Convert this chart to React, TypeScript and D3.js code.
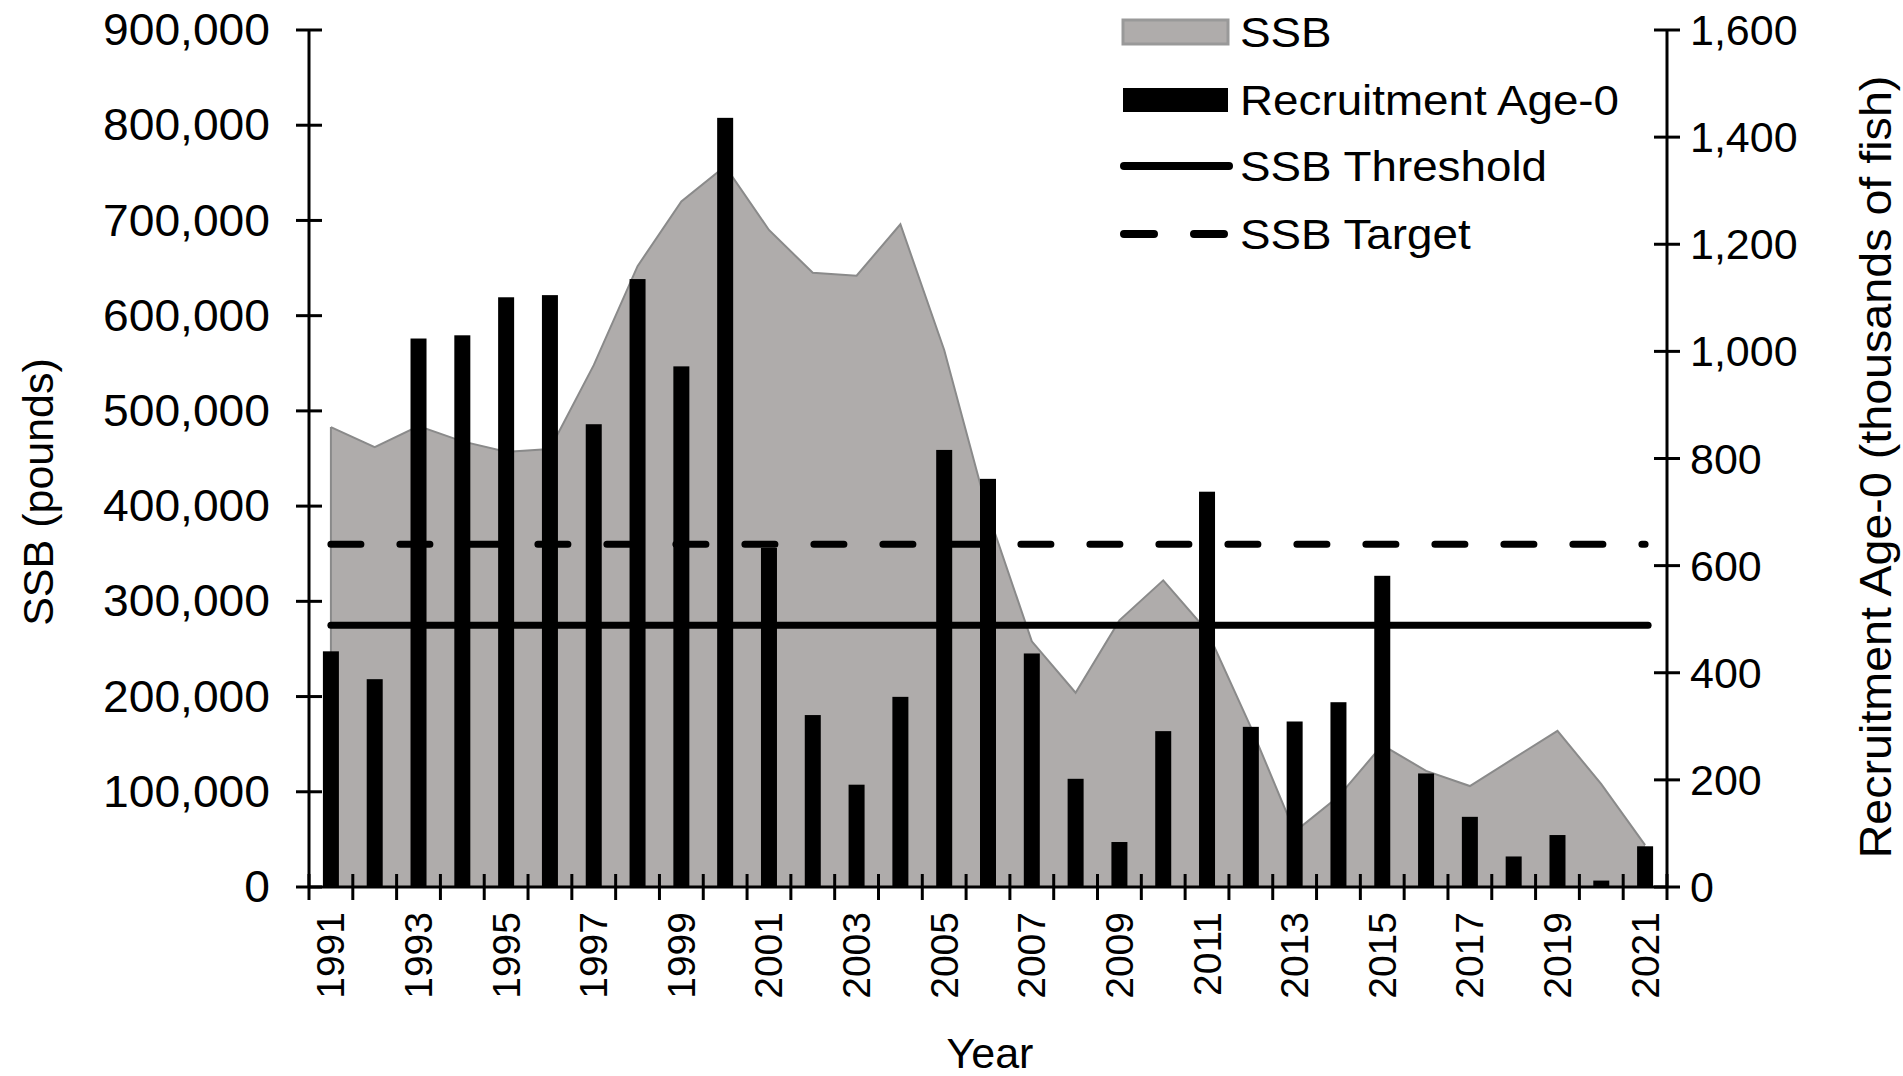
import React from "react";
import * as d3 from "d3";

const years = [1991,1992,1993,1994,1995,1996,1997,1998,1999,2000,2001,2002,2003,2004,2005,2006,2007,2008,2009,2010,2011,2012,2013,2014,2015,2016,2017,2018,2019,2020,2021];
const ssb = [483000,462000,484000,468000,457000,460000,548000,652000,720000,757000,690000,645000,642000,696000,564000,393000,258000,204000,280000,322000,269000,168000,58000,95000,149000,122000,106000,135000,164000,108000,44000];
const recruitment = [440,388,1024,1030,1101,1105,864,1135,972,1436,633,321,191,355,816,762,436,202,84,291,738,299,309,345,581,212,131,57,97,12,76];
const ssbThreshold = 275000;
const ssbTarget = 360000;
const leftTicks = [0,100000,200000,300000,400000,500000,600000,700000,800000,900000];
const rightTicks = [0,200,400,600,800,1000,1200,1400,1600];
const yearLabels = years.filter((y) => (y - 1991) % 2 === 0);
const legendItems = ["SSB", "Recruitment Age-0", "SSB Threshold", "SSB Target"];

const FONT = "'Liberation Sans', Arial, sans-serif";

export default function App() {
  const W = 1903, H = 1076;
  const x0 = 309, x1 = 1667, yTop = 30, yBot = 887;
  const x = d3.scaleBand<number>().domain(years).range([x0, x1]).padding(0);
  const yL = d3.scaleLinear().domain([0, 900000]).range([yBot, yTop]);
  const yR = d3.scaleLinear().domain([0, 1600]).range([yBot, yTop]);
  const cx = (yr: number) => (x(yr) as number) + x.bandwidth() / 2;
  const barW = 16;
  const fmt = d3.format(",");

  const area = d3.area<number>()
    .x((_, i) => cx(years[i]))
    .y0(yBot)
    .y1((d) => yL(d));
  const line = d3.line<number>()
    .x((_, i) => cx(years[i]))
    .y((d) => yL(d));

  const boundaries = d3.range(years.length + 1).map((i) => x0 + i * x.bandwidth());
  const firstC = cx(years[0]);
  const lastC = cx(years[years.length - 1]);

  const legX0 = 1123, legX1 = 1228, legTextX = 1240;
  const legY = [32, 100, 166, 234];

  return (
    <svg width={W} height={H} style={{ position: "absolute", left: 0, top: 0, background: "#fff" }} fontFamily={FONT}>
      <rect x={0} y={0} width={W} height={H} fill="#fff" />
      {/* SSB area */}
      <path d={area(ssb) || ""} fill="#afacab" stroke="none" />
      <path d={line(ssb) || ""} fill="none" stroke="#8a8a8a" strokeWidth={2} />
      <line x1={firstC} x2={firstC} y1={yL(ssb[0])} y2={yBot} stroke="#8a8a8a" strokeWidth={2} />
      {/* reference lines */}
      <line x1={firstC} x2={lastC + 3} y1={yL(ssbThreshold)} y2={yL(ssbThreshold)} stroke="#000" strokeWidth={7} strokeLinecap="round" />
      <line x1={firstC} x2={lastC} y1={yL(ssbTarget)} y2={yL(ssbTarget)} stroke="#000" strokeWidth={7} strokeLinecap="round" strokeDasharray="30 39" />
      {/* bars */}
      {recruitment.map((v, i) => (
        <rect key={years[i]} x={cx(years[i]) - barW / 2} y={yR(v)} width={barW} height={yBot - yR(v)} fill="#000" />
      ))}
      {/* x axis */}
      <line x1={x0} x2={x1} y1={yBot} y2={yBot} stroke="#000" strokeWidth={3} />
      {boundaries.map((b, i) => (
        <line key={i} x1={b} x2={b} y1={yBot - 13} y2={yBot + 13} stroke="#000" strokeWidth={3} />
      ))}
      {yearLabels.map((yr) => (
        <text key={yr} transform={`translate(${cx(yr)},${yBot + 25}) rotate(-90)`} textAnchor="end" dominantBaseline="central" fontSize={39} fill="#000">{yr}</text>
      ))}
      <text x={990} y={1068} textAnchor="middle" fontSize={43} fill="#000">Year</text>
      {/* left axis */}
      <line x1={x0} x2={x0} y1={yTop} y2={yBot} stroke="#000" strokeWidth={3} />
      {leftTicks.map((t) => (
        <g key={t}>
          <line x1={x0 - 13} x2={x0 + 13} y1={yL(t)} y2={yL(t)} stroke="#000" strokeWidth={3} />
          <text transform={`translate(270,${yL(t)}) scale(1.05,1)`} textAnchor="end" dominantBaseline="central" fontSize={44} fill="#000">{fmt(t)}</text>
        </g>
      ))}
      <text transform={`translate(38,492) rotate(-90)`} textAnchor="middle" dominantBaseline="central" fontSize={43} fill="#000">SSB (pounds)</text>
      {/* right axis */}
      <line x1={x1} x2={x1} y1={yTop} y2={yBot} stroke="#000" strokeWidth={3} />
      {rightTicks.map((t) => (
        <g key={t}>
          <line x1={x1 - 13} x2={x1 + 13} y1={yR(t)} y2={yR(t)} stroke="#000" strokeWidth={3} />
          <text x={1690} y={yR(t)} textAnchor="start" dominantBaseline="central" fontSize={43} fill="#000">{fmt(t)}</text>
        </g>
      ))}
      <text transform={`translate(1876,467) rotate(-90) scale(1.06,1)`} textAnchor="middle" dominantBaseline="central" fontSize={44} fill="#000">Recruitment Age-0 (thousands of fish)</text>
      {/* legend */}
      <rect x={legX0} y={legY[0] - 12} width={legX1 - legX0} height={24} fill="#afacab" stroke="#999" strokeWidth={3} />
      <rect x={legX0} y={legY[1] - 12} width={legX1 - legX0} height={24} fill="#000" />
      <line x1={legX0 + 1} x2={legX1 + 1} y1={legY[2]} y2={legY[2]} stroke="#000" strokeWidth={8} strokeLinecap="round" />
      <line x1={legX0 + 1} x2={legX1 - 3} y1={legY[3]} y2={legY[3]} stroke="#000" strokeWidth={8} strokeLinecap="round" strokeDasharray="30 40" />
      {legendItems.map((t, i) => (
        <text key={t} transform={`translate(${legTextX},${legY[i]}) scale(1.09,1)`} dominantBaseline="central" fontSize={42} fill="#000">{t}</text>
      ))}
    </svg>
  );
}
